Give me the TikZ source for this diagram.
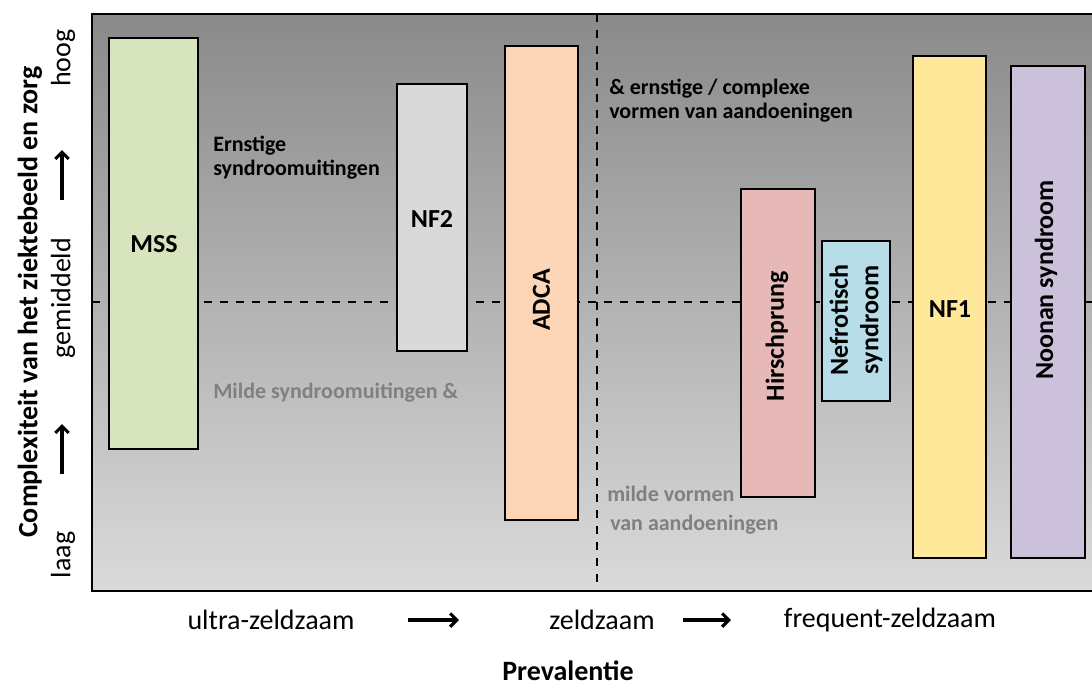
\documentclass[tikz,border=0pt]{standalone}
\usepackage{fontspec}
\setmainfont{Carlito}
\usetikzlibrary{fit,arrows.meta}
\definecolor{bgtop}{RGB}{138,138,138}
\definecolor{bgbot}{RGB}{218,218,218}
\definecolor{cmss}{RGB}{215,228,189}
\definecolor{cnf2}{RGB}{217,217,217}
\definecolor{cadca}{RGB}{251,213,181}
\definecolor{chirsch}{RGB}{230,185,184}
\definecolor{cnefro}{RGB}{183,222,232}
\definecolor{cnf1}{RGB}{255,232,153}
\definecolor{cnoonan}{RGB}{204,193,218}
\definecolor{mildgray}{RGB}{128,128,128}
\begin{document}
\begin{tikzpicture}[x=0.75pt,y=-0.75pt,
  bar/.style={draw=black, line width=2pt, inner sep=0pt, outer sep=0pt},
  boxlab/.style={font=\bfseries\fontsize{19.5}{23}\selectfont, inner sep=0pt, align=center},
  note/.style={font=\bfseries\fontsize{16.5}{18}\selectfont, inner sep=0pt, align=left, anchor=west},
  mild/.style={note, text=mildgray},
  axlab/.style={font=\fontsize{21}{24}\selectfont, inner sep=0pt},
  axtitle/.style={font=\bfseries\fontsize{21}{24}\selectfont, inner sep=0pt},
  arr/.style={line width=2.3pt, -{Straight Barb[length=5pt,width=10pt]}},
  guide/.style={line width=1.4pt, dash pattern=on 6pt off 6pt}]
\useasboundingbox (0,0) rectangle (1092,686);
% plot area
\shade[top color=bgtop, bottom color=bgbot] (92,14) rectangle (1100,591);
\coordinate (hl) at (92,302);
\coordinate (hr) at (1100,302);
\coordinate (vt) at (597,14);
\coordinate (vb) at (597,591);
\draw[guide] (hl) -- (hr);
\draw[guide] (vt) -- (vb);
\draw[line width=2.2pt] (92,14) rectangle (1100,591);
% bars
\node[bar, fill=cmss, fit={(109,38) (198,449)}] (mss) {};
\node[bar, fill=cnf2, fit={(397,84) (467,351)}] (nf2) {};
\node[bar, fill=cadca, fit={(505,46) (578,520)}] (adca) {};
\node[bar, fill=chirsch, fit={(741,189) (815,497)}] (hirsch) {};
\node[bar, fill=cnefro, fit={(822,241) (890,401)}] (nefro) {};
\node[bar, fill=cnf1, fit={(913,56) (986,558)}] (nf1) {};
\node[bar, fill=cnoonan, fit={(1011,66) (1085,558)}] (noonan) {};
% bar labels
\node[boxlab] (lmss) at (154,244) {MSS};
\node[boxlab] (lnf2) at (432,219) {NF2};
\node[boxlab, rotate=90] (ladca) at (541.5,300) {ADCA};
\node[boxlab, rotate=90] (lhirsch) at (777,336) {Hirschprung};
\node[boxlab, rotate=90] (lnefro) at (856,320) {Nefrotisch\\syndroom};
\node[boxlab] (lnf1) at (950,309) {NF1};
\node[boxlab, rotate=90] (lnoonan) at (1046,280) {Noonan syndroom};
% annotations
\node[note] (ernst) at (213,158) {Ernstige\\syndroomuitingen};
\node[note] (compl) at (609,101) {\& ernstige / complexe\\vormen van aandoeningen};
\node[mild] (milde) at (213,393) {Milde syndroomuitingen \&};
\node[mild] (mildv) at (607,494) {milde vormen};
\node[mild] (vanaan) at (610,525) {van aandoeningen};
% x axis
\node[axlab] (ultra) at (271,620) {ultra-zeldzaam};
\node[axlab] (zeld) at (602,620) {zeldzaam};
\node[axlab] (freq) at (890,620) {frequent-zeldzaam};
\node[axtitle] (prev) at (568,671) {Prevalentie};
\coordinate (a1s) at (408,620);
\coordinate (a1e) at (459,620);
\coordinate (a2s) at (683,620);
\coordinate (a2e) at (731,620);
\draw[arr] (a1s) -- (a1e);
\draw[arr] (a2s) -- (a2e);
% y axis
\node[axtitle, rotate=90] (ytitle) at (30,302) {Complexiteit van het ziektebeeld en zorg};
\node[axlab, rotate=90] (laag) at (63,555) {laag};
\node[axlab, rotate=90] (gem) at (63,298) {gemiddeld};
\node[axlab, rotate=90] (hoog) at (63,58) {hoog};
\coordinate (a3s) at (62,474);
\coordinate (a3e) at (62,424);
\coordinate (a4s) at (62,200);
\coordinate (a4e) at (62,150);
\draw[arr] (a3s) -- (a3e);
\draw[arr] (a4s) -- (a4e);
\end{tikzpicture}
\end{document}
